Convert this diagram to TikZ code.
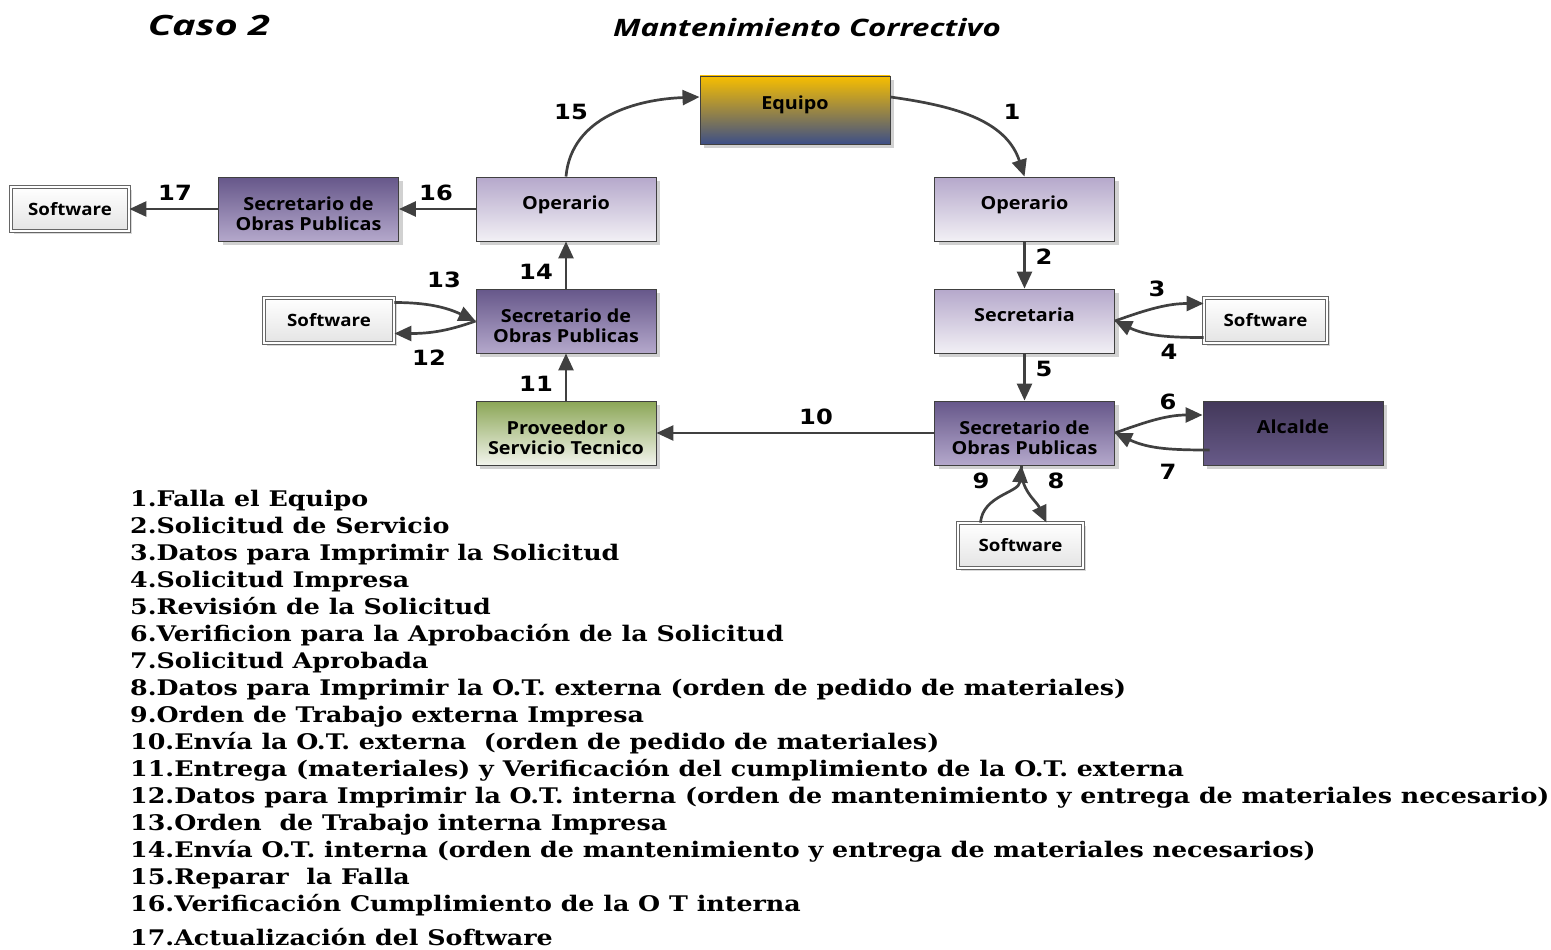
\documentclass[tikz,border=0pt]{standalone}
\usepackage{fontspec}
\setmainfont[FakeStretch=1.178]{DejaVu Serif}
\newfontfamily\boxfont[FakeStretch=1.1]{Open Sans}
\newfontfamily\numfont[FakeStretch=1.15]{DejaVu Sans}
\newfontfamily\casofont[FakeStretch=1.42]{Open Sans}
\newfontfamily\headfont[FakeStretch=1.3]{Open Sans}
\usetikzlibrary{arrows.meta,shadows}
\definecolor{edge}{HTML}{404040}
\definecolor{lavtop}{HTML}{B5A8CB}
\definecolor{lavbot}{HTML}{F2F0F5}
\definecolor{sectop}{HTML}{66578A}
\definecolor{secbot}{HTML}{B4A8CB}
\definecolor{alctop}{HTML}{43385A}
\definecolor{alcbot}{HTML}{675A88}
\definecolor{provtop}{HTML}{8BA656}
\definecolor{provbot}{HTML}{F2F4EC}
\definecolor{eqtop}{HTML}{F7BE00}
\definecolor{eqmid}{HTML}{A38E42}
\definecolor{eqbot}{HTML}{3D4F87}
\definecolor{swbot}{HTML}{E4E4E4}
% taller first line pushes two-line labels slightly down in their boxes
\newcommand\firststrut{\rule{0pt}{24pt}}
\tikzset{
  box/.style={draw=edge, line width=0.9pt, align=center,
    font=\boxfont\bfseries\fontsize{18}{20}\selectfont,
    minimum width=180pt, minimum height=64pt, inner sep=2pt,
    drop shadow={shadow xshift=4pt, shadow yshift=-4pt, fill=black!18, opacity=1}},
  oneline/.style={text height=13pt, text depth=13pt},
  lav/.style={box, top color=lavtop, bottom color=lavbot},
  secop/.style={box, top color=sectop, bottom color=secbot},
  alc/.style={box, top color=alctop, bottom color=alcbot},
  prov/.style={box, top color=provtop, bottom color=provbot},
  equipo/.style={box, top color=eqtop, middle color=eqmid, bottom color=eqbot},
  soft/.style={draw=black!60, line width=0.8pt, double=white, double distance=2pt,
    top color=white, bottom color=swbot, minimum height=45pt,
    font=\boxfont\bfseries\fontsize{17}{20}\selectfont,
    drop shadow={shadow xshift=3pt, shadow yshift=-3pt, fill=black!15, opacity=1}},
  flow/.style={draw=edge, line width=2.7pt, -{Triangle[length=17pt,width=15pt]}},
  num/.style={font=\numfont\bfseries\fontsize{21}{24}\selectfont, inner sep=0pt},
  legend/.style={anchor=base west, inner sep=0pt, font=\bfseries\fontsize{21.5}{24}\selectfont},
}
\begin{document}
\begin{tikzpicture}[x=1pt,y=-1pt]
\useasboundingbox (0,0) rectangle (1551,950);

% titles
\node[font=\casofont\bfseries\itshape\fontsize{28}{30}\selectfont] (caso) at (209,25) {Caso 2};
\node[font=\headfont\bfseries\itshape\fontsize{24}{26}\selectfont] (titulo) at (807,28) {Mantenimiento Correctivo};

% boxes
\node[equipo, oneline, minimum width=190pt, minimum height=68pt] (eq) at (795,110) {Equipo};
\node[lav, oneline] (opR) at (1024.5,209) {Operario};
\node[lav, oneline] (opL) at (566,209) {Operario};
\node[secop] (secTL) at (308.5,209) {\firststrut Secretario de\\Obras Publicas};
\node[soft, minimum width=118pt, minimum height=44pt] (swTL) at (70,209) {Software};
\node[secop] (secM) at (566,321) {\firststrut Secretario de\\Obras Publicas};
\node[soft, minimum width=130pt] (swM) at (329,320.5) {Software};
\node[prov] (prov) at (566,433) {\firststrut Proveedor o\\Servicio Tecnico};
\node[lav, oneline] (secr) at (1024.5,321) {Secretaria};
\node[soft, minimum width=123pt] (swR) at (1265.5,320.5) {Software};
\node[secop] (secBR) at (1024.5,433) {\firststrut Secretario de\\Obras Publicas};
\node[alc, oneline] (alc) at (1293,433) {Alcalde};
\node[soft, minimum width=125pt] (swB) at (1020.5,545.5) {Software};

% connectors
\draw[flow] ([yshift=13pt]eq.east) to[out=-8, in=108] (opR.north);
\draw[flow] (opR.south) -- (secr.north);
\draw[flow] (secr.east) to[out=20, in=180] ([yshift=17pt]swR.west);
\draw[flow] ([yshift=-17pt]swR.west) to[out=180, in=-25] (secr.east);
\draw[flow] (secr.south) -- (secBR.north);
\draw[flow] (secBR.east) to[out=20, in=180] ([yshift=18pt]alc.west);
\draw[flow] ([xshift=7pt,yshift=-17pt]alc.west) to[out=180, in=-25] (secBR.east);
\draw[flow] ([xshift=-3pt]secBR.south) to[out=-95, in=115] ([xshift=26pt]swB.north);
\draw[flow] ([xshift=-40pt]swB.north) to[out=85, in=-95] ([xshift=-3pt]secBR.south);
\draw[flow] (secBR.west) -- (prov.east);
\draw[flow] (prov.north) -- (secM.south);
\draw[flow] (secM.west) to[out=200, in=0] ([yshift=-13pt]swM.east);
\draw[flow] ([yshift=18pt]swM.east) to[out=0, in=155] (secM.west);
\draw[flow] (secM.north) -- (opL.south);
\draw[flow] (opL.north) to[out=85, in=182] ([yshift=13pt]eq.west);
\draw[flow] (opL.west) -- (secTL.east);
\draw[flow] (secTL.west) -- (swTL.east);

% step numbers
\node[num] (n1) at (1012,112) {1};
\node[num] (n2) at (1044,257) {2};
\node[num] (n3) at (1157,289) {3};
\node[num] (n4) at (1169,352) {4};
\node[num] (n5) at (1044,369) {5};
\node[num] (n6) at (1168,402) {6};
\node[num] (n7) at (1168,472) {7};
\node[num] (n8) at (1056,481) {8};
\node[num] (n9) at (981,481) {9};
\node[num] (n10) at (816,417) {10};
\node[num] (n11) at (536,384) {11};
\node[num] (n12) at (429,358) {12};
\node[num] (n13) at (444,280) {13};
\node[num] (n14) at (536,272) {14};
\node[num] (n15) at (571,112) {15};
\node[num] (n16) at (436,193) {16};
\node[num] (n17) at (175,193) {17};

% legend
\node[legend] (l1) at (130,506) {1.Falla el Equipo};
\node[legend] (l2) at (130,533) {2.Solicitud de Servicio};
\node[legend] (l3) at (130,560) {3.Datos para Imprimir la Solicitud};
\node[legend] (l4) at (130,587) {4.Solicitud Impresa};
\node[legend] (l5) at (130,614) {5.Revisión de la Solicitud};
\node[legend] (l6) at (130,641) {6.Verificion para la Aprobación de la Solicitud};
\node[legend] (l7) at (130,668) {7.Solicitud Aprobada};
\node[legend] (l8) at (130,695) {8.Datos para Imprimir la O.T. externa (orden de pedido de materiales)};
\node[legend] (l9) at (130,722) {9.Orden de Trabajo externa Impresa};
\node[legend] (l10) at (130,749) {10.Envía la O.T. externa \ (orden de pedido de materiales)};
\node[legend] (l11) at (130,776) {11.Entrega (materiales) y Verificación del cumplimiento de la O.T. externa};
\node[legend] (l12) at (130,803) {12.Datos para Imprimir la O.T. interna (orden de mantenimiento y entrega de materiales necesario)};
\node[legend] (l13) at (130,830) {13.Orden \ de Trabajo interna Impresa};
\node[legend] (l14) at (130,857) {14.Envía O.T. interna (orden de mantenimiento y entrega de materiales necesarios)};
\node[legend] (l15) at (130,884) {15.Reparar \ la Falla};
\node[legend] (l16) at (130,911) {16.Verificación Cumplimiento de la O T interna};
\node[legend] (l17) at (130,945) {17.Actualización del Software};
\end{tikzpicture}
\end{document}
